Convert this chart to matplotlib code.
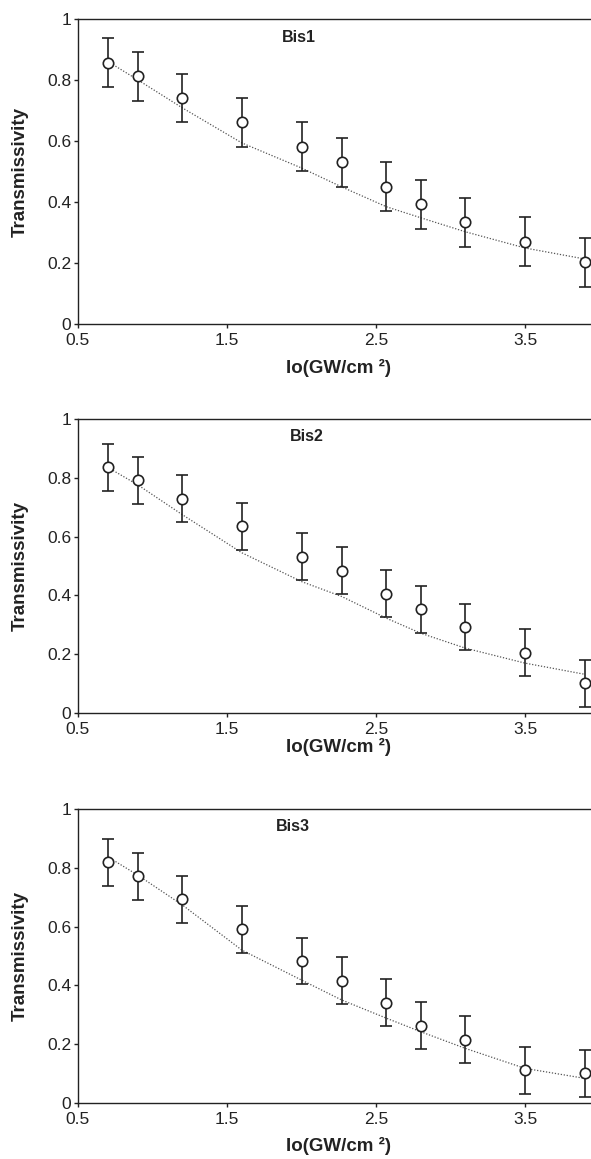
import matplotlib
matplotlib.use("Agg")
import matplotlib.pyplot as plt

plt.rcParams['font.family'] = ['Liberation Sans', 'DejaVu Sans']

# intensity (GW/cm2) at which transmissivity was measured
io = [0.7, 0.9, 1.2, 1.6, 2.0, 2.27, 2.57, 2.8, 3.1, 3.5, 3.9]

# measured transmissivity and fitted curve for each sample
bis1_t = [0.857, 0.812, 0.741, 0.661, 0.582, 0.531, 0.451, 0.393, 0.334, 0.271, 0.203]
bis1_fit = [0.861, 0.801, 0.709, 0.594, 0.512, 0.450, 0.385, 0.349, 0.303, 0.250, 0.214]
bis2_t = [0.836, 0.793, 0.729, 0.635, 0.532, 0.484, 0.405, 0.352, 0.292, 0.205, 0.101]
bis2_fit = [0.836, 0.777, 0.675, 0.545, 0.447, 0.396, 0.322, 0.271, 0.220, 0.169, 0.131]
bis3_t = [0.820, 0.771, 0.693, 0.591, 0.483, 0.415, 0.340, 0.262, 0.214, 0.110, 0.100]
bis3_fit = [0.838, 0.776, 0.674, 0.520, 0.418, 0.350, 0.288, 0.242, 0.185, 0.117, 0.083]
t_err = 0.08

names = ['Bis1', 'Bis2', 'Bis3']
x_ticks = [0.5, 1.5, 2.5, 3.5]
y_ticks = [0, 0.2, 0.4, 0.6, 0.8, 1]
y_ticklabels = ['0', '0.2', '0.4', '0.6', '0.8', '1']

W, H = 591, 1159
fig = plt.figure(figsize=(W / 100, H / 100), dpi=100)

# axes boxes in pixels: (top, bottom) of each panel, x from 78 to 599.5
boxes = [(19, 324.3), (419.3, 712.7), (809.3, 1102.7)]
xlabel_off = [44, 34, 43]       # px below the axis
name_x = [1.87, 1.92, 1.83]

panels = [(bis1_t, bis1_fit), (bis2_t, bis2_fit), (bis3_t, bis3_fit)]
ink = '#222222'

for i, (vals, fit) in enumerate(panels):
    top, bot = boxes[i]
    ax = fig.add_axes([78 / W, (H - bot) / H, (599.5 - 78) / W, (bot - top) / H])

    ax.plot(io, fit, color='#555555', lw=0.9, linestyle=(0, (1, 1.4)))
    ax.errorbar(io, vals, yerr=t_err, fmt='o', mfc='white', mec=ink, ms=7.5,
                mew=1.2, ecolor=ink, elinewidth=1.2, capsize=4, capthick=1.2,
                zorder=3)

    ax.set_xlim(0.5, 4.0)
    ax.set_ylim(0, 1)
    ax.set_xticks(x_ticks)
    ax.set_xticklabels([str(v) for v in x_ticks])
    ax.set_yticks(y_ticks)
    ax.set_yticklabels(y_ticklabels)
    ax.tick_params(direction='out', length=3, width=1, colors=ink,
                   labelsize=12.5, labelcolor=ink)
    ax.tick_params(axis='x', pad=3.5)
    ax.tick_params(axis='y', pad=2)

    for side in ['left', 'bottom', 'top']:
        ax.spines[side].set_linewidth(1.0)
        ax.spines[side].set_color(ink)
    ax.spines['right'].set_visible(False)

    ax.text(name_x[i], 0.94, names[i], fontsize=11.5, fontweight='bold',
            color=ink, va='center', ha='left')

    ax.set_ylabel('Transmissivity', fontsize=13.5, fontweight='bold',
                  color=ink, va='center')
    ax.yaxis.set_label_coords(-(78 - 20) / (599.5 - 78), 0.5)
    ax.set_xlabel('Io(GW/cm ²)', fontsize=13.5, fontweight='bold',
                  color=ink, va='center')
    ax.xaxis.set_label_coords(0.5, -xlabel_off[i] / (bot - top))

fig.savefig('out.png', dpi=100, facecolor='white')
